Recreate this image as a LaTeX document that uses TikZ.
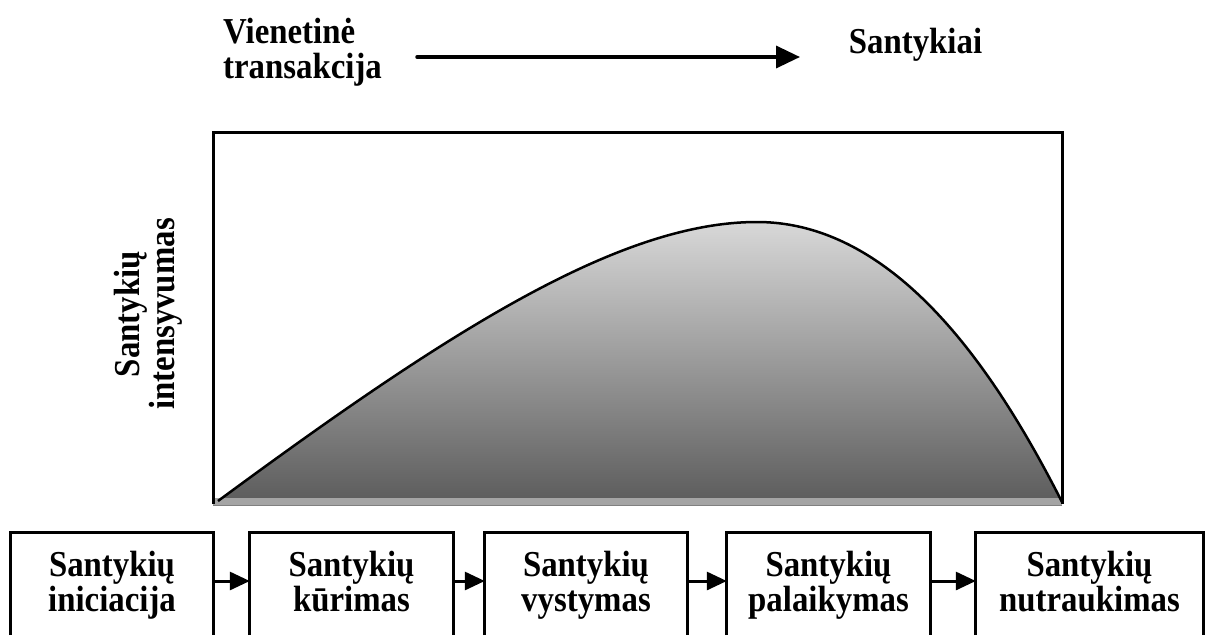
\documentclass[tikz,border=0pt]{standalone}
\usepackage{fontspec}
\setmainfont{Liberation Serif}
\newfontfamily\lbfont[FakeStretch=0.9]{Liberation Serif}
\usetikzlibrary{arrows.meta}
\definecolor{topc}{HTML}{D8D8D8}
\definecolor{botc}{HTML}{5C5C5C}
\definecolor{bandc}{HTML}{A4A4A4}
\newcommand{\st}{\rule[-8pt]{0pt}{35pt}}
\tikzset{
  lbl/.style={inner sep=0pt, font=\lbfont\fontsize{36.5}{35}\selectfont\bfseries, align=center},
  stagebox/.style={lbl, minimum height=102pt},
  edge/.style={line width=3pt},
  conn/.style={line width=3pt, -{Triangle[length=20pt,width=18pt]}},
  bigarrow/.style={line width=3.5pt, line cap=round, -{Triangle[length=24pt,width=22pt]}}
}
\begin{document}
\begin{tikzpicture}[x=1pt,y=-1pt]
\useasboundingbox (0,0) rectangle (1215,635);
% top labels
\node[lbl, align=left] (vt) at (302.5,51) {\st Vienetinė\\\st transakcija};
\node[lbl] (sa) at (915.5,44) {\st Santykiai};
\coordinate (a0) at (417,57);
\coordinate (a1) at (800,57);
\draw[bigarrow] (a0) -- (a1);
% y label
\node[lbl, rotate=90] (yl) at (147,314) {\st Santykių\\\st intensyvumas};
% chart
\shade[top color=topc, bottom color=botc]
  (218,501) .. controls (450,330) and (620,222) .. (757,222)
  .. controls (900,222) and (1000,380) .. (1062,502) -- cycle;
\fill[bandc] (213,498) rectangle (1062,505);
\draw[gray, line width=0.8pt] (213,505) -- (1062,505);
\draw[line width=2.5pt]
  (218,501) .. controls (450,330) and (620,222) .. (757,222)
  .. controls (900,222) and (1000,380) .. (1062,502);
\draw[edge] (213,504) -- (213,132) -- (1062,132) -- (1062,504);
% stage boxes
\node[stagebox, minimum width=202pt] (b1) at (112,584) {\st Santykių\\\st iniciacija};
\node[stagebox, minimum width=203pt] (b2) at (351.5,584) {\st Santykių\\\st kūrimas};
\node[stagebox, minimum width=202pt] (b3) at (586,584) {\st Santykių\\\st vystymas};
\node[stagebox, minimum width=203pt] (b4) at (828.5,584) {\st Santykių\\\st palaikymas};
\node[stagebox, minimum width=227pt] (b5) at (1089.5,584) {\st Santykių\\\st nutraukimas};
\foreach \b in {b1,b2,b3,b4,b5}{
  \draw[edge] (\b.south west) -- (\b.north west) -- (\b.north east) -- (\b.south east);
}
\draw[conn] ([yshift=3pt]b1.east) -- ([yshift=3pt]b2.west);
\draw[conn] ([yshift=3pt]b2.east) -- ([yshift=3pt]b3.west);
\draw[conn] ([yshift=3pt]b3.east) -- ([yshift=3pt]b4.west);
\draw[conn] ([yshift=3pt]b4.east) -- ([yshift=3pt]b5.west);
\end{tikzpicture}
\end{document}
